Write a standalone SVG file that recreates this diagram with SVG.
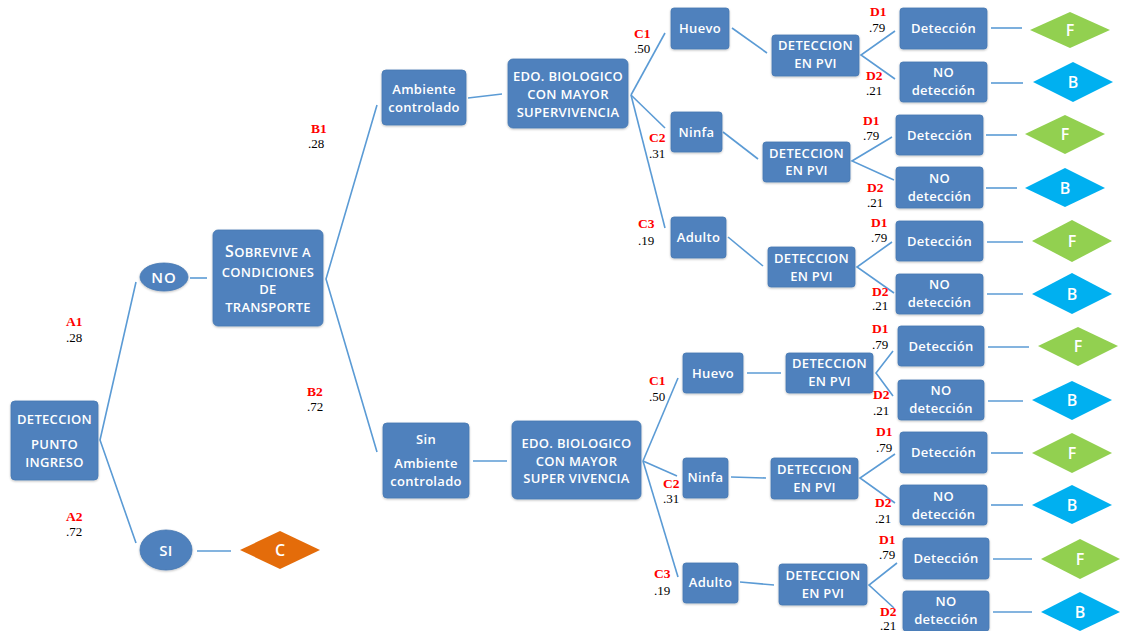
<svg xmlns="http://www.w3.org/2000/svg" width="1121" height="631" viewBox="0 0 1121 631">
  <style>
    .box{fill:#4F81BD;stroke:#4678B3;stroke-width:0.8;filter:url(#sh)}
    .t{font-family:"Open Sans","Liberation Sans",sans-serif;font-weight:600;font-size:13px;letter-spacing:0.3px;fill:#fff;text-anchor:middle}
    .lnk{stroke:#5B9BD5;stroke-width:1.6;fill:none}
    .lab{font-family:"Liberation Serif",serif;font-weight:bold;font-size:13.5px;fill:#FF0000}
    .num{font-family:"Liberation Serif",serif;font-size:13px;fill:#000}
    .dF{fill:#92D050}
    .dB{fill:#00B0F0}
    .dC{fill:#E46C0A}
    .dt{font-family:"Open Sans","Liberation Sans",sans-serif;font-weight:600;font-size:16px;fill:#fff;text-anchor:middle}
  </style>
  <defs>
    <filter id="sh" x="-10%" y="-10%" width="120%" height="130%">
      <feDropShadow dx="0" dy="1" stdDeviation="1.2" flood-color="#000" flood-opacity="0.25"/>
    </filter>
  </defs>
  <rect width="1121" height="631" fill="#fff"/>

  <!-- connectors -->
  <g id="connectors" class="lnk">
    <polyline points="136,282 100,440 136,543"/>
    <line x1="190" y1="278" x2="207" y2="278"/>
    <line x1="197" y1="551" x2="231" y2="551"/>
    <polyline points="377,105 326,279 377,452"/>
    <line x1="468" y1="98" x2="502" y2="94"/>
    <line x1="473" y1="461" x2="507" y2="461"/>
    <!-- upper stage branches -->
    <line x1="631" y1="95" x2="665" y2="33"/>
    <line x1="631" y1="95" x2="665" y2="128"/>
    <line x1="631" y1="95" x2="665" y2="228"/>
    <line x1="732" y1="28" x2="767" y2="53"/>
    <line x1="723" y1="132" x2="758" y2="159"/>
    <line x1="728" y1="237" x2="763" y2="266"/>
    <polyline points="895,31 861,55 895,79"/>
    <polyline points="892,137 852,161 894,180"/>
    <polyline points="892,242 857,267 894,293"/>
    <line x1="991" y1="28" x2="1022" y2="28"/>
    <line x1="991" y1="83" x2="1023" y2="83"/>
    <line x1="986" y1="135" x2="1017" y2="135"/>
    <line x1="986" y1="188" x2="1017" y2="188"/>
    <line x1="987" y1="242" x2="1023" y2="242"/>
    <line x1="987" y1="294" x2="1023" y2="294"/>
    <!-- lower stage branches -->
    <line x1="643" y1="461" x2="678" y2="378"/>
    <line x1="643" y1="461" x2="677" y2="476"/>
    <line x1="643" y1="461" x2="678" y2="577"/>
    <line x1="747" y1="373" x2="781" y2="373"/>
    <line x1="731" y1="477" x2="766" y2="478"/>
    <line x1="740" y1="582" x2="774" y2="585"/>
    <polyline points="893,351 876,373 893,396"/>
    <polyline points="895,454 860,478 895,503"/>
    <polyline points="897,563 869,585 894,608"/>
    <line x1="988" y1="347" x2="1029" y2="347"/>
    <line x1="988" y1="401" x2="1023" y2="401"/>
    <line x1="991" y1="453" x2="1023" y2="453"/>
    <line x1="991" y1="505" x2="1023" y2="505"/>
    <line x1="993" y1="559" x2="1032" y2="559"/>
    <line x1="993" y1="612" x2="1032" y2="612"/>
  </g>

  <!-- probability labels -->
  <g id="labels">
    <text class="lab" x="66" y="326">A1</text><text class="num" x="66" y="342">.28</text>
    <text class="lab" x="66" y="521">A2</text><text class="num" x="66" y="536">.72</text>
    <text class="lab" x="311" y="133">B1</text><text class="num" x="308" y="148">.28</text>
    <text class="lab" x="307" y="396">B2</text><text class="num" x="307" y="411">.72</text>
    <text class="lab" x="634" y="38">C1</text><text class="num" x="634" y="53">.50</text>
    <text class="lab" x="649" y="142">C2</text><text class="num" x="649" y="158">.31</text>
    <text class="lab" x="638" y="228">C3</text><text class="num" x="638" y="245">.19</text>
    <text class="lab" x="649" y="385">C1</text><text class="num" x="649" y="401">.50</text>
    <text class="lab" x="663" y="488">C2</text><text class="num" x="663" y="503">.31</text>
    <text class="lab" x="654" y="578">C3</text><text class="num" x="654" y="595">.19</text>
    <text class="lab" x="870" y="16">D1</text><text class="num" x="869" y="32">.79</text>
    <text class="lab" x="866" y="80">D2</text><text class="num" x="866" y="95">.21</text>
    <text class="lab" x="863" y="125">D1</text><text class="num" x="863" y="140">.79</text>
    <text class="lab" x="867" y="192">D2</text><text class="num" x="867" y="207">.21</text>
    <text class="lab" x="871" y="227">D1</text><text class="num" x="871" y="242">.79</text>
    <text class="lab" x="872" y="296">D2</text><text class="num" x="872" y="310">.21</text>
    <text class="lab" x="872" y="333">D1</text><text class="num" x="872" y="349">.79</text>
    <text class="lab" x="873" y="399">D2</text><text class="num" x="873" y="415">.21</text>
    <text class="lab" x="876" y="436">D1</text><text class="num" x="876" y="452">.79</text>
    <text class="lab" x="875" y="507">D2</text><text class="num" x="875" y="523">.21</text>
    <text class="lab" x="879" y="544">D1</text><text class="num" x="879" y="559">.79</text>
    <text class="lab" x="880" y="616">D2</text><text class="num" x="880" y="630">.21</text>
  </g>

  <!-- root and first decision -->
  <g id="deteccion-punto-ingreso">
    <rect class="box" x="11" y="401" width="87" height="79" rx="4"/>
    <text class="t" x="54.5" y="424">DETECCION</text>
    <text class="t" x="54.5" y="449">PUNTO</text>
    <text class="t" x="54.5" y="467">INGRESO</text>
  </g>
  <g id="no">
    <ellipse class="box" cx="164" cy="277" rx="24" ry="14"/>
    <text class="t" x="164" y="283" style="font-size:15px;letter-spacing:1px">NO</text>
  </g>
  <g id="si">
    <ellipse class="box" cx="166" cy="550" rx="26" ry="20"/>
    <text class="t" x="166" y="556" style="font-size:15px">SI</text>
  </g>
  <g id="c">
    <polygon class="dC" points="240,550 280,531 320,550 280,569"/>
    <text class="dt" x="280" y="556">C</text>
  </g>
  <g id="sobrevive">
    <rect class="box" x="213" y="230" width="110" height="96" rx="5"/>
    <text class="t" x="268" y="257"><tspan style="font-size:16px">S</tspan>OBREVIVE A</text>
    <text class="t" x="268" y="277">CONDICIONES</text>
    <text class="t" x="268" y="294">DE</text>
    <text class="t" x="268" y="312">TRANSPORTE</text>
  </g>

  <!-- controlled environment branch -->
  <g id="ambiente-controlado">
    <rect class="box" x="382" y="70" width="84" height="55" rx="4"/>
    <text class="t" x="424" y="94">Ambiente</text>
    <text class="t" x="424" y="112">controlado</text>
  </g>
  <g id="edo-biologico-1">
    <rect class="box" x="508" y="59" width="120" height="69" rx="5"/>
    <text class="t" x="568" y="81">EDO. BIOLOGICO</text>
    <text class="t" x="568" y="99">CON MAYOR</text>
    <text class="t" x="568" y="117">SUPERVIVENCIA</text>
  </g>
  <g id="huevo-1">
    <rect class="box" x="671" y="8" width="58" height="41" rx="3"/>
    <text class="t" x="700" y="33">Huevo</text>
  </g>
  <g id="ninfa-1">
    <rect class="box" x="671" y="112" width="51" height="40" rx="3"/>
    <text class="t" x="696.5" y="137">Ninfa</text>
  </g>
  <g id="adulto-1">
    <rect class="box" x="671" y="217" width="55" height="41" rx="3"/>
    <text class="t" x="698.5" y="242">Adulto</text>
  </g>
  <g id="pvi-1">
    <rect class="box" x="772" y="35" width="87" height="41" rx="3"/>
    <text class="t" x="815.5" y="50">DETECCION</text>
    <text class="t" x="815.5" y="68">EN PVI</text>
  </g>
  <g id="pvi-2">
    <rect class="box" x="763" y="142" width="87" height="40" rx="3"/>
    <text class="t" x="806.5" y="158">DETECCION</text>
    <text class="t" x="806.5" y="175">EN  PVI</text>
  </g>
  <g id="pvi-3">
    <rect class="box" x="768" y="247" width="87" height="40" rx="3"/>
    <text class="t" x="811.5" y="263">DETECCION</text>
    <text class="t" x="811.5" y="281">EN PVI</text>
  </g>
  <g id="det-1">
    <rect class="box" x="900" y="8" width="87" height="41" rx="3"/>
    <text class="t" x="943.5" y="33">Detección</text>
  </g>
  <g id="nodet-1">
    <rect class="box" x="900" y="62" width="87" height="40" rx="3"/>
    <text class="t" x="943.5" y="77">NO</text>
    <text class="t" x="943.5" y="95">detección</text>
  </g>
  <g id="det-2">
    <rect class="box" x="896" y="115" width="87" height="40" rx="3"/>
    <text class="t" x="939.5" y="140">Detección</text>
  </g>
  <g id="nodet-2">
    <rect class="box" x="896" y="167" width="87" height="41" rx="3"/>
    <text class="t" x="939.5" y="183">NO</text>
    <text class="t" x="939.5" y="201">detección</text>
  </g>
  <g id="det-3">
    <rect class="box" x="896" y="221" width="87" height="40" rx="3"/>
    <text class="t" x="939.5" y="246">Detección</text>
  </g>
  <g id="nodet-3">
    <rect class="box" x="896" y="274" width="87" height="40" rx="3"/>
    <text class="t" x="939.5" y="289">NO</text>
    <text class="t" x="939.5" y="307">detección</text>
  </g>
  <g id="f-1"><polygon class="dF" points="1030,30 1070,12 1110,30 1070,48"/><text class="dt" x="1070" y="36">F</text></g>
  <g id="b-1"><polygon class="dB" points="1033,82 1073,62 1113,82 1073,102"/><text class="dt" x="1073" y="88">B</text></g>
  <g id="f-2"><polygon class="dF" points="1025,134 1065,115 1105,134 1065,154"/><text class="dt" x="1065" y="140">F</text></g>
  <g id="b-2"><polygon class="dB" points="1025,188 1065,168 1105,188 1065,207"/><text class="dt" x="1065" y="194">B</text></g>
  <g id="f-3"><polygon class="dF" points="1032,241 1072,220 1112,241 1072,262"/><text class="dt" x="1072" y="247">F</text></g>
  <g id="b-3"><polygon class="dB" points="1032,294 1072,273 1112,294 1072,314"/><text class="dt" x="1072" y="300">B</text></g>

  <!-- uncontrolled environment branch -->
  <g id="sin-ambiente">
    <rect class="box" x="383" y="423" width="86" height="75" rx="4"/>
    <text class="t" x="426" y="444">Sin</text>
    <text class="t" x="426" y="468">Ambiente</text>
    <text class="t" x="426" y="486">controlado</text>
  </g>
  <g id="edo-biologico-2">
    <rect class="box" x="512" y="421" width="129" height="78" rx="5"/>
    <text class="t" x="576.5" y="448">EDO. BIOLOGICO</text>
    <text class="t" x="576.5" y="466">CON MAYOR</text>
    <text class="t" x="576.5" y="483">SUPER VIVENCIA</text>
  </g>
  <g id="huevo-2">
    <rect class="box" x="683" y="353" width="60" height="40" rx="3"/>
    <text class="t" x="713" y="378">Huevo</text>
  </g>
  <g id="ninfa-2">
    <rect class="box" x="683" y="458" width="45" height="40" rx="3"/>
    <text class="t" x="705.5" y="482">Ninfa</text>
  </g>
  <g id="adulto-2">
    <rect class="box" x="683" y="563" width="55" height="40" rx="3"/>
    <text class="t" x="710.5" y="587">Adulto</text>
  </g>
  <g id="pvi-4">
    <rect class="box" x="786" y="353" width="87" height="40" rx="3"/>
    <text class="t" x="829.5" y="368">DETECCION</text>
    <text class="t" x="829.5" y="386">EN PVI</text>
  </g>
  <g id="pvi-5">
    <rect class="box" x="771" y="458" width="87" height="41" rx="3"/>
    <text class="t" x="814.5" y="474">DETECCION</text>
    <text class="t" x="814.5" y="492">EN PVI</text>
  </g>
  <g id="pvi-6">
    <rect class="box" x="779" y="564" width="88" height="41" rx="3"/>
    <text class="t" x="823" y="580">DETECCION</text>
    <text class="t" x="823" y="598">EN PVI</text>
  </g>
  <g id="det-4">
    <rect class="box" x="898" y="326" width="86" height="40" rx="3"/>
    <text class="t" x="941" y="351">Detección</text>
  </g>
  <g id="nodet-4">
    <rect class="box" x="898" y="380" width="86" height="40" rx="3"/>
    <text class="t" x="941" y="395">NO</text>
    <text class="t" x="941" y="413">detección</text>
  </g>
  <g id="det-5">
    <rect class="box" x="900" y="432" width="87" height="41" rx="3"/>
    <text class="t" x="943.5" y="457">Detección</text>
  </g>
  <g id="nodet-5">
    <rect class="box" x="900" y="485" width="87" height="40" rx="3"/>
    <text class="t" x="943.5" y="501">NO</text>
    <text class="t" x="943.5" y="519">detección</text>
  </g>
  <g id="det-6">
    <rect class="box" x="903" y="538" width="86" height="41" rx="3"/>
    <text class="t" x="946" y="563">Detección</text>
  </g>
  <g id="nodet-6">
    <rect class="box" x="903" y="591" width="86" height="40" rx="3"/>
    <text class="t" x="946" y="606">NO</text>
    <text class="t" x="946" y="624">detección</text>
  </g>
  <g id="f-4"><polygon class="dF" points="1038,346 1078,327 1118,346 1078,366"/><text class="dt" x="1078" y="352">F</text></g>
  <g id="b-4"><polygon class="dB" points="1032,400 1072,381 1112,400 1072,420"/><text class="dt" x="1072" y="406">B</text></g>
  <g id="f-5"><polygon class="dF" points="1032,453 1072,433 1112,453 1072,473"/><text class="dt" x="1072" y="459">F</text></g>
  <g id="b-5"><polygon class="dB" points="1032,505 1072,485 1112,505 1072,524"/><text class="dt" x="1072" y="511">B</text></g>
  <g id="f-6"><polygon class="dF" points="1041,559 1080,539 1120,559 1080,579"/><text class="dt" x="1080" y="565">F</text></g>
  <g id="b-6"><polygon class="dB" points="1041,612 1080,592 1120,612 1080,631"/><text class="dt" x="1080" y="618">B</text></g>
</svg>
